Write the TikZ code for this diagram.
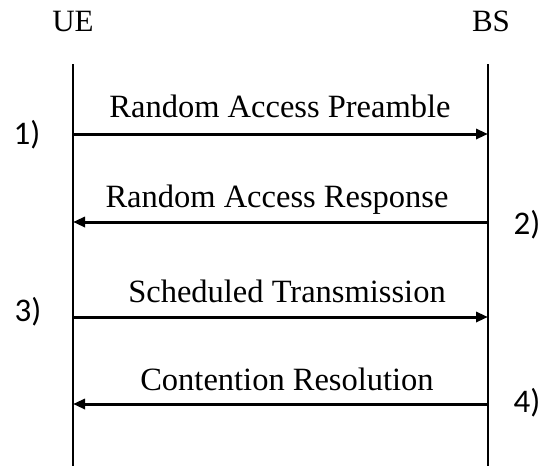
\documentclass[tikz,border=0pt]{standalone}
\usepackage{fontspec}
\setmainfont{Liberation Serif}
\newfontfamily\numfont{Carlito}
\usetikzlibrary{arrows.meta}
\begin{document}
\begin{tikzpicture}[x=1pt,y=-1pt,
  lifeline/.style={line width=1.4pt},
  msg/.style={line width=3pt,-{Triangle[length=12pt,width=10pt]}},
  head/.style={inner sep=0pt,anchor=base,font=\fontsize{31}{36}\selectfont},
  msglabel/.style={inner sep=0pt,anchor=base,font=\fontsize{32.5}{38}\selectfont},
  numlabel/.style={inner sep=0pt,font=\fontsize{33}{38}\selectfont\numfont}]
\useasboundingbox (0,0) rectangle (552,466);
% heads
\node[head] (ue) at (73,31) {UE};
\node[head] (bs) at (491,31) {BS};
% lifelines
\coordinate (ueT) at (73,64);
\coordinate (ueB) at (73,466);
\coordinate (bsT) at (488,64);
\coordinate (bsB) at (488,466);
\draw[lifeline] (ueT) -- (ueB);
\draw[lifeline] (bsT) -- (bsB);
% message points
\coordinate (u1) at (73,134);
\coordinate (b1) at (488,134);
\coordinate (u2) at (73,222);
\coordinate (b2) at (488,222);
\coordinate (u3) at (73,317);
\coordinate (b3) at (488,317);
\coordinate (u4) at (73,404);
\coordinate (b4) at (488,404);
\draw[msg] (u1) -- (b1);
\draw[msg] (b2) -- (u2);
\draw[msg] (u3) -- (b3);
\draw[msg] (b4) -- (u4);
% labels
\node[msglabel] (l1) at (280,117) {Random Access Preamble};
\node[msglabel] (l2) at (277,207) {Random Access Response};
\node[msglabel] (l3) at (287,302) {Scheduled Transmission};
\node[msglabel] (l4) at (287,390) {Contention Resolution};
% step numbers
\node[numlabel] (n1) at (27,135) {1)};
\node[numlabel] (n2) at (527,225) {2)};
\node[numlabel] (n3) at (28,312) {3)};
\node[numlabel] (n4) at (527,403) {4)};
\end{tikzpicture}
\end{document}
